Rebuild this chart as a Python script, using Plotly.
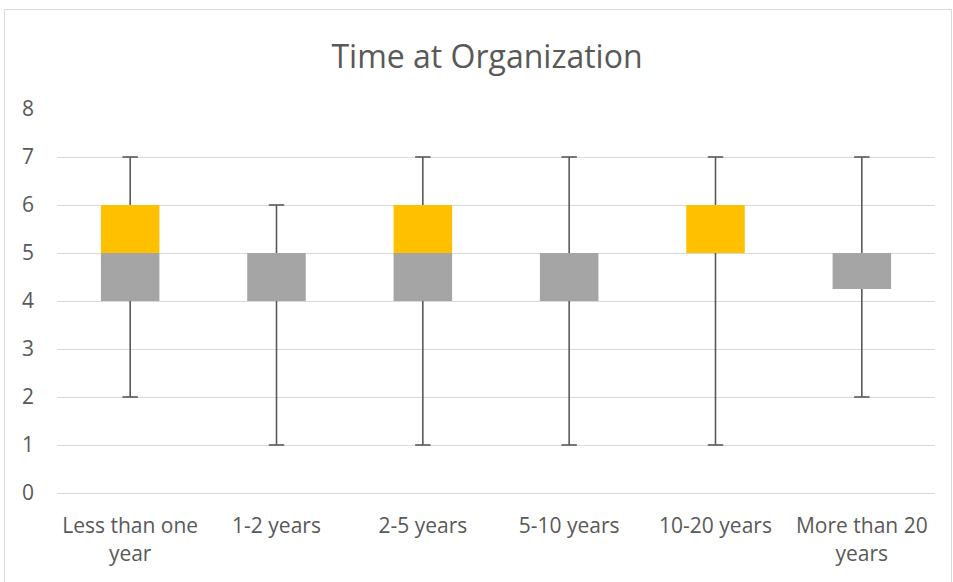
import plotly.graph_objects as go

categories = ["Less than one<br>year", "1-2 years", "2-5 years", "5-10 years",
              "10-20 years", "More than 20<br>years"]
minimum = [2, 1, 1, 1, 1, 2]
q1 = [4, 4, 4, 4, 5, 4.25]
median = [5, 5, 5, 5, 5, 5]
q3 = [6, 5, 6, 5, 6, 5]
maximum = [7, 6, 7, 7, 7, 7]

GRAY = "#A5A5A5"
GOLD = "#FFC000"
TEXT = "#595959"
GRID = "#D9D9D9"
WHISKER = "#595959"

fig = go.Figure()

# lower box: Q1 -> median
fig.add_trace(go.Bar(
    x=categories, y=[m - a for m, a in zip(median, q1)], base=q1,
    marker=dict(color=GRAY, line=dict(width=0)), showlegend=False,
))
# upper box: median -> Q3
fig.add_trace(go.Bar(
    x=categories, y=[b - m for b, m in zip(q3, median)], base=median,
    marker=dict(color=GOLD, line=dict(width=0)), showlegend=False,
))

# whisker stems: min -> Q1 and Q3 -> max, separated by gaps
wx, wy = [], []
for c, lo, a, b, hi in zip(categories, minimum, q1, q3, maximum):
    wx += [c, c, None, c, c, None]
    wy += [lo, a, None, b, hi, None]
fig.add_trace(go.Scatter(
    x=wx, y=wy, mode="lines", line=dict(color=WHISKER, width=1.6),
    showlegend=False, hoverinfo="skip", connectgaps=False,
))
# whisker caps at min and max
fig.add_trace(go.Scatter(
    x=categories + categories, y=minimum + maximum, mode="markers",
    marker=dict(symbol="line-ew", size=11,
                line=dict(color=WHISKER, width=1.6)),
    showlegend=False, hoverinfo="skip",
))

W, H = 953, 582
L, R, T, B = 57, 935, 109, 493
pw, ph = R - L, B - T

def px_x(v):
    return (v - L) / pw

def px_y(v):
    return (B - v) / ph

fig.update_layout(
    width=W, height=H,
    margin=dict(l=L, r=W - R, t=T, b=H - B),
    paper_bgcolor="white", plot_bgcolor="white",
    barmode="overlay", bargap=0.6,
    font=dict(family="Open Sans", color=TEXT, size=21),
    title=dict(text="Time at Organization", x=px_x(487), xref="paper",
               xanchor="center", y=1 - 57 / H, yanchor="middle",
               font=dict(size=32, color=TEXT)),
    xaxis=dict(showgrid=False, showline=True, linecolor=GRID, linewidth=1,
               ticks="", ticklabelstandoff=14,
               tickfont=dict(size=21, color=TEXT)),
    yaxis=dict(range=[0, 8], dtick=1, showgrid=True, gridcolor=GRID,
               gridwidth=1, zeroline=False, showline=False, ticks="",
               ticklabelstandoff=22, tickfont=dict(size=21, color=TEXT)),
    shapes=[dict(type="rect", xref="paper", yref="paper",
                 x0=px_x(4.5), x1=px_x(951.5), y0=px_y(590), y1=px_y(9.5),
                 line=dict(color=GRID, width=1), fillcolor="rgba(0,0,0,0)",
                 layer="below")],
)

fig.write_html("out.html")
